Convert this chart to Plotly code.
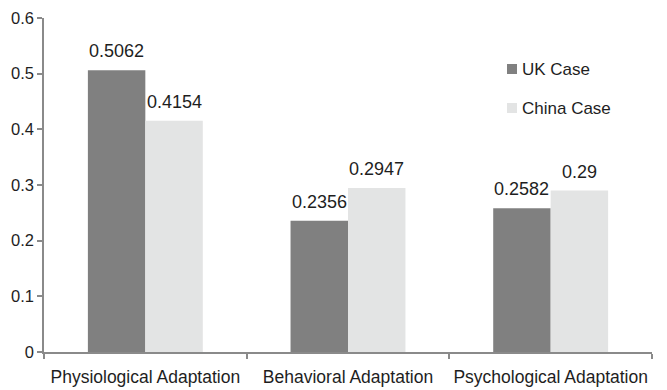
import plotly.graph_objects as go

categories = ["Physiological Adaptation", "Behavioral Adaptation", "Psychological Adaptation"]
uk_values = [0.5062, 0.2356, 0.2582]
china_values = [0.4154, 0.2947, 0.29]
uk_labels = ["0.5062", "0.2356", "0.2582"]
china_labels = ["0.4154", "0.2947", "0.29"]
series_names = ["UK Case", "China Case"]
series_colors = ["#808080", "#e3e4e4"]

W, H = 667, 390
M = dict(l=44, r=15, t=18, b=38)
plot_w = W - M["l"] - M["r"]
plot_h = H - M["t"] - M["b"]
bargap = 0.433

font_family = "Liberation Sans, Arial, Helvetica, sans-serif"
text_color = "#1e1e1e"
axis_color = "#8a8a8a"

fig = go.Figure()
for name, vals, color in zip(series_names, [uk_values, china_values], series_colors):
    fig.add_trace(go.Bar(name=name, x=categories, y=vals, marker_color=color,
                         marker_line_width=0, showlegend=False))

# value labels above each bar, offset to the bar's slot in the group
bar_px = plot_w / len(categories) * (1 - bargap) / 2
annotations = []
for vals, labels, sign in [(uk_values, uk_labels, -1), (china_values, china_labels, 1)]:
    for cat, v, lab in zip(categories, vals, labels):
        annotations.append(dict(
            x=cat, y=v, xref="x", yref="y", text=lab, showarrow=False,
            xanchor="center", yanchor="bottom", xshift=sign * bar_px / 2, yshift=7,
            font=dict(size=18, color=text_color),
        ))

# legend: small squares with the series names beside them
def px_x(px):
    return (px - M["l"]) / plot_w

def px_y(py):
    return (H - M["b"] - py) / plot_h

shapes = []
for name, color, cy in zip(series_names, series_colors, [69, 108]):
    shapes.append(dict(type="rect", xref="paper", yref="paper",
                       x0=px_x(507), x1=px_x(517), y0=px_y(cy + 5), y1=px_y(cy - 5),
                       fillcolor=color, line_width=0))
    annotations.append(dict(x=px_x(520), y=px_y(cy), xref="paper", yref="paper",
                            text=name, showarrow=False, xanchor="left", yanchor="middle",
                            font=dict(size=17, color=text_color)))

fig.update_layout(
    width=W, height=H, margin=M,
    paper_bgcolor="white", plot_bgcolor="white",
    barmode="group", bargap=bargap, bargroupgap=0,
    font=dict(family=font_family, size=17, color=text_color),
    annotations=annotations, shapes=shapes, showlegend=False,
)
fig.update_xaxes(
    automargin=False, tickangle=0,
    showline=True, linecolor=axis_color, linewidth=1.5,
    ticks="outside", tickson="boundaries", ticklen=5, tickcolor=axis_color, tickwidth=1.5,
    tickfont=dict(size=17.5, color=text_color), ticklabelstandoff=8, showgrid=False,
)
fig.update_yaxes(
    automargin=False,
    range=[0, 0.6], dtick=0.1, tickformat="~g",
    showline=True, linecolor=axis_color, linewidth=1.5,
    ticks="outside", ticklen=5, tickcolor=axis_color, tickwidth=1.5,
    tickfont=dict(size=16.5, color=text_color), showgrid=False, zeroline=False,
)

fig.write_html("out.html")
